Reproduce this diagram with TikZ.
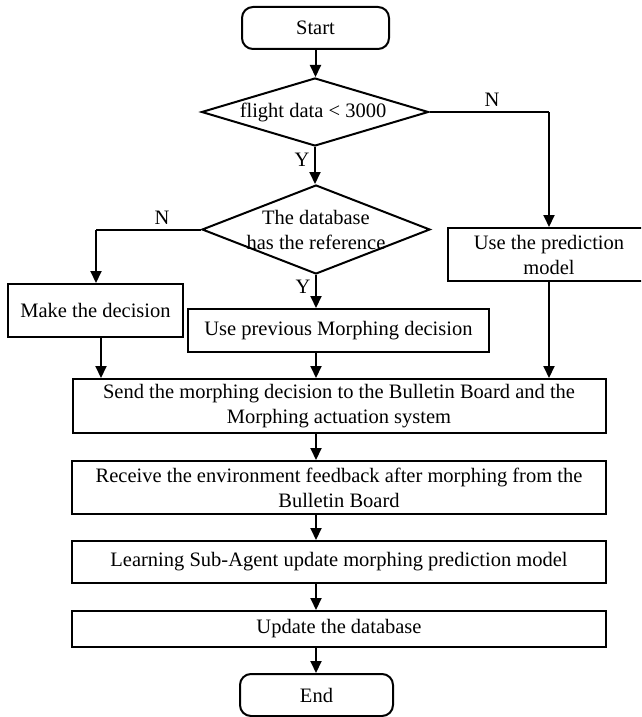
\documentclass[tikz,border=0pt]{standalone}
\usepackage{fontspec}
\setmainfont{Liberation Serif}
\usetikzlibrary{shapes.geometric,arrows.meta,calc}
\tikzset{
  base/.style={draw=black, line width=2pt, inner sep=0pt, align=center,
    font=\fontsize{20.5}{25}\selectfont},
  procbox/.style={base, rectangle},
  termbox/.style={base, rectangle, rounded corners=11pt},
  decbox/.style={base, diamond},
  txt/.style={inner sep=0pt, align=center, font=\fontsize{20.5}{25}\selectfont},
  lbl/.style={inner sep=0pt, font=\fontsize{20.5}{25}\selectfont},
  conn/.style={line width=2pt, -{Triangle[length=12pt,width=11pt]}},
  plain/.style={line width=2pt}
}
\begin{document}
\begin{tikzpicture}[x=1pt,y=-1pt]
\useasboundingbox (0,0) rectangle (641,717);
\clip (0,0) rectangle (641,717);
\fill[white] (0,0) rectangle (641,717);
% nodes
\node[termbox, minimum width=147pt, minimum height=42pt] (start) at (315.5,28) {Start};
\node[decbox, minimum width=227pt, minimum height=68pt] (d1) at (315,112) {};
\node[txt] (d1t) at (313,112) {flight data < 3000};
\node[decbox, minimum width=228pt, minimum height=89pt] (d2) at (316,229.5) {};
\node[txt] (d2t) at (316,230) {The database\\has the reference};
\node[procbox, minimum width=202pt, minimum height=53pt] (pred) at (549,254.5) {Use the prediction\\model};
\node[procbox, minimum width=175pt, minimum height=53pt] (make) at (95.5,310.5) {Make the decision};
\node[procbox, minimum width=301pt, minimum height=43pt] (prev) at (338.5,330.5) {Use previous Morphing decision};
\node[procbox, minimum width=533pt, minimum height=54pt] (send) at (339,406) {Send the morphing decision to the Bulletin Board and the\\Morphing actuation system};
\node[procbox, minimum width=534pt, minimum height=53pt] (recv) at (339,487.5) {Receive the environment feedback after morphing from the\\Bulletin Board};
\node[procbox, minimum width=534pt, minimum height=42pt] (learn) at (339,562) {Learning Sub-Agent update morphing prediction model};
\node[procbox, minimum width=534pt, minimum height=36pt] (upd) at (339,629) {Update the database};
\node[termbox, minimum width=153pt, minimum height=42pt] (end) at (316.5,695) {End};
% helper coordinates
\coordinate (c1) at (pred.north |- d1.east);
\coordinate (c2) at (96,229.5);
\coordinate (mk) at (101,337);
% connectors
\draw[conn] (start.south) -- (start.south |- d1.north);
\draw[conn] (d1.south) -- (d1.south |- d2.north);
\draw[plain] (d1.east) -- (c1);
\draw[conn] (c1) -- (pred.north);
\draw[plain] (d2.west) -- (c2);
\draw[conn] (c2) -- (c2 |- make.north);
\draw[conn] (d2.south) -- (d2.south |- prev.north);
\draw[conn] (mk |- make.south) -- (mk |- send.north);
\draw[conn] (d2.south |- prev.south) -- (d2.south |- send.north);
\draw[conn] (pred.south) -- (pred.south |- send.north);
\draw[conn] (d2.south |- send.south) -- (d2.south |- recv.north);
\draw[conn] (d2.south |- recv.south) -- (d2.south |- learn.north);
\draw[conn] (d2.south |- learn.south) -- (d2.south |- upd.north);
\draw[conn] (d2.south |- upd.south) -- (end.north -| d2.south);
% labels
\node[lbl] (n1) at (492,100) {N};
\node[lbl] (y1) at (302,160) {Y};
\node[lbl] (n2) at (162,218) {N};
\node[lbl] (y2) at (303,287) {Y};
\end{tikzpicture}
\end{document}
